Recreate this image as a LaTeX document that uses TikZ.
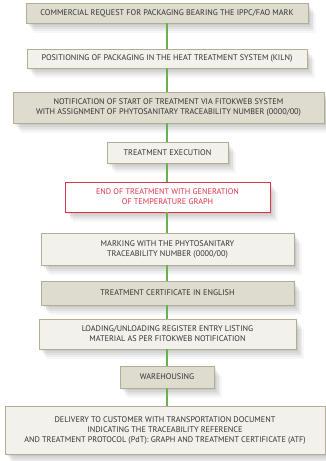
\documentclass[tikz,border=0pt]{standalone}
\usepackage{fontspec}
\setmainfont{PT Sans}
\usetikzlibrary{calc}
\definecolor{darkfill}{RGB}{222,219,207}
\definecolor{lightfill}{RGB}{242,241,236}
\definecolor{boxborder}{RGB}{178,174,148}
\definecolor{redc}{RGB}{222,52,72}
\definecolor{greenc}{RGB}{106,176,76}
\definecolor{textc}{RGB}{50,50,48}
\tikzset{
  softshadow/.style={
    preaction={fill=black,opacity=0.05,transform canvas={shift={(1.5pt,-2pt)}}},
    preaction={fill=black,opacity=0.05,transform canvas={shift={(3pt,-4pt)}}},
    preaction={fill=black,opacity=0.05,transform canvas={shift={(4.5pt,-6pt)}}},
    preaction={fill=black,opacity=0.04,transform canvas={shift={(6pt,-8pt)}}},
    preaction={fill=black,opacity=0.03,transform canvas={shift={(7.5pt,-10pt)}}}},
  box/.style={draw=boxborder,line width=0.9pt,softshadow,align=center,
    text=textc,font=\fontsize{8.2}{10}\selectfont,inner sep=0pt},
  darkbox/.style={box,fill=darkfill},
  lightbox/.style={box,fill=lightfill},
  redbox/.style={box,fill=white,draw=redc,text=redc},
  link/.style={draw=greenc,line width=2.4pt}
}
\begin{document}
\begin{tikzpicture}[x=1pt,y=-1pt]
\useasboundingbox (0,0) rectangle (326,461);
\fill[white] (0,0) rectangle (326,461);
\node[darkbox,minimum width=282pt,minimum height=20pt] (n1) at (167,13)
  {COMMERCIAL REQUEST FOR PACKAGING BEARING THE IPPC/FAO MARK};
\node[lightbox,minimum width=280pt,minimum height=19pt] (n2) at (167,58.5)
  {POSITIONING OF PACKAGING IN THE HEAT TREATMENT SYSTEM (KILN)};
\node[darkbox,minimum width=311pt,minimum height=31pt] (n3) at (168.5,107.5)
  {NOTIFICATION OF START OF TREATMENT VIA FITOKWEB SYSTEM\\WITH ASSIGNMENT OF PHYTOSANITARY TRACEABILITY NUMBER (0000/00)};
\node[lightbox,minimum width=121pt,minimum height=21pt] (n4) at (167.5,152.5)
  {TREATMENT EXECUTION};
\node[redbox,minimum width=205pt,minimum height=30pt] (n5) at (167.5,197)
  {END OF TREATMENT WITH GENERATION\\OF TEMPERATURE GRAPH};
\node[lightbox,minimum width=253pt,minimum height=32pt] (n6) at (167.5,249)
  {MARKING WITH THE PHYTOSANITARY\\TRACEABILITY NUMBER (0000/00)};
\node[darkbox,minimum width=253pt,minimum height=24pt] (n7) at (167.5,293)
  {TREATMENT CERTIFICATE IN ENGLISH};
\node[lightbox,minimum width=257pt,minimum height=30pt] (n8) at (167.5,334)
  {LOADING/UNLOADING REGISTER ENTRY LISTING\\MATERIAL AS PER FITOKWEB NOTIFICATION};
\node[darkbox,minimum width=94pt,minimum height=22pt] (n9) at (167,377)
  {WAREHOUSING};
\node[lightbox,minimum width=320pt,minimum height=48pt] (n10) at (165,430)
  {DELIVERY TO CUSTOMER WITH TRANSPORTATION DOCUMENT\\INDICATING THE TRACEABILITY REFERENCE\\AND TREATMENT PROTOCOL (PdT): GRAPH AND TREATMENT CERTIFICATE (ATF)};
\foreach \a/\b in {n1/n2,n2/n3,n3/n4,n4/n5,n5/n6,n6/n7,n7/n8,n8/n9,n9/n10}
  \draw[link] (\a.south -| 167,0) -- (\b.north -| 167,0);
\end{tikzpicture}
\end{document}
